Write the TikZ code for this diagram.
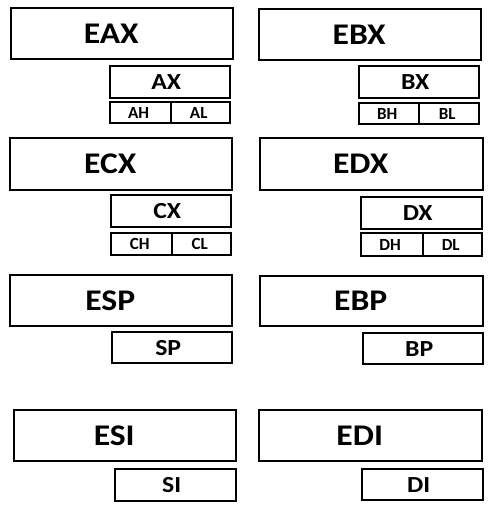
\documentclass[tikz,border=0pt]{standalone}
\usepackage{fontspec}
\setmainfont{Carlito}
\tikzset{
  reg/.style={draw, line width=2.4pt, anchor=north west, inner sep=0pt,
    minimum width=222pt, minimum height=51pt,
    font=\fontsize{30}{32}\selectfont\bfseries\addfontfeatures{FakeStretch=1.12},
    execute at end node={\hspace*{22pt}}},
  half/.style={draw, line width=2.4pt, anchor=north west, inner sep=0pt,
    minimum width=120pt, minimum height=32pt,
    font=\fontsize{23}{25}\selectfont\bfseries\addfontfeatures{FakeStretch=1.12},
    execute at end node={\hspace*{8pt}}},
  byte/.style={draw, line width=2.4pt, anchor=north west, inner sep=0pt,
    minimum width=60pt, minimum height=21pt, font=\fontsize{17}{19}\selectfont\bfseries,
    execute at end node={\hspace*{4pt}}}
}
\begin{document}
\begin{tikzpicture}[x=1pt,y=-1pt]
  \useasboundingbox (0,0) rectangle (491,512);
  % EAX
  \node[reg] (eax) at (10,7) {EAX};
  \node[half] (ax) at (109,65) {AX};
  \node[byte, minimum width=61pt] (ah) at (109,101) {AH};
  \node[byte, minimum width=59pt] (al) at (170,101) {AL};
  % EBX
  \node[reg] (ebx) at (258,8) {EBX};
  \node[half] (bx) at (358,65) {BX};
  \node[byte] (bh) at (358,102) {BH};
  \node[byte] (bl) at (418,102) {BL};
  % ECX
  \node[reg, minimum height=52pt] (ecx) at (9,137) {ECX};
  \node[half] (cx) at (110,194) {CX};
  \node[byte, minimum width=61pt, minimum height=22pt] (ch) at (110,232) {CH};
  \node[byte, minimum width=59pt, minimum height=22pt] (cl) at (171,232) {CL};
  % EDX
  \node[reg, minimum width=223pt, minimum height=52pt] (edx) at (259,137) {EDX};
  \node[half, minimum width=121pt] (dx) at (360,196) {DX};
  \node[byte, minimum width=62pt, minimum height=23pt] (dh) at (360,232) {DH};
  \node[byte, minimum width=59pt, minimum height=23pt] (dl) at (422,232) {DL};
  % ESP
  \node[reg] (esp) at (9,274) {ESP};
  \node[half, minimum height=31pt] (sp) at (111,331) {SP};
  % EBP
  \node[reg, minimum width=223pt, minimum height=50pt] (ebp) at (259,275) {EBP};
  \node[half, minimum height=31pt] (bp) at (362,332) {BP};
  % ESI
  \node[reg] (esi) at (13,409) {ESI};
  \node[half, minimum width=121pt] (si) at (114,468) {SI};
  % EDI
  \node[reg, minimum width=223pt] (edi) at (258,409) {EDI};
  \node[half, minimum width=121pt, minimum height=31pt] (di) at (361,468) {DI};
\end{tikzpicture}
\end{document}
